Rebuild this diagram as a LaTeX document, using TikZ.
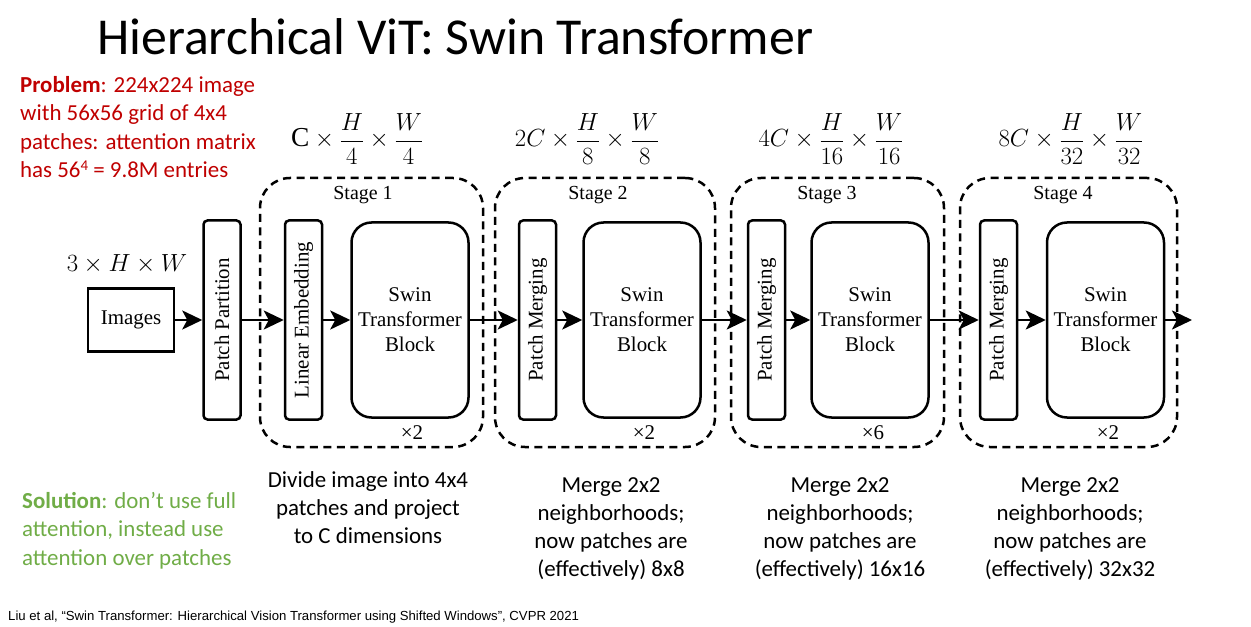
\documentclass[tikz,border=0pt]{standalone}
\usepackage{fontspec}
\setmainfont{Carlito}
\newfontfamily\tnr{Liberation Serif}
\newfontfamily\arialf{Liberation Sans}
\usetikzlibrary{arrows.meta}
\definecolor{probred}{HTML}{C00000}
\definecolor{solgreen}{HTML}{70AD47}
\begin{document}
\begin{tikzpicture}[x=1bp,y=-1bp,
  blk/.style={draw, line width=2.5bp, inner sep=0pt, font=\tnr\fontsize{21}{25}\selectfont, align=center},
  thinbox/.style={blk, minimum width=37bp, minimum height=199bp, rounded corners=4bp},
  swin/.style={blk, minimum width=117bp, minimum height=195bp, rounded corners=20bp},
  stagebox/.style={draw, line width=2.5bp, dash pattern=on 8bp off 5.5bp, rounded corners=30bp, inner sep=0pt, minimum height=269bp},
  flow/.style={line width=2.5bp, -{Stealth[length=20bp,width=19bp,inset=5bp]}},
  stlabel/.style={font=\tnr\fontsize{20}{24}\selectfont},
  rep/.style={font=\tnr\fontsize{21}{24}\selectfont},
  dims/.style={anchor=base, inner sep=0pt, font=\fontsize{27.5}{32}\selectfont},
  note/.style={anchor=base, align=center, inner sep=0pt, font=\fontsize{23}{28}\selectfont},
  side/.style={anchor=base west, align=left, inner sep=0pt, font=\fontsize{23}{28.5}\selectfont},
]
\useasboundingbox (0,0) rectangle (1251,627);
\fill[white] (0,0) rectangle (1251,627);

% title
\node[anchor=base west, inner sep=0pt, font=\fontsize{52}{62}\selectfont] (title) at (97,55) {Hierarchical ViT: Swin Transformer};

% side texts (anchor base = baseline of last line)
\node[side, text=probred] (prob) at (20,177.5) {\textbf{Problem}: 224x224 image\\with 56x56 grid of 4x4\\patches: attention matrix\\has 56{\fontsize{15}{15}\selectfont\raisebox{7bp}{4}} = 9.8M entries};
\node[side, text=solgreen] (sol) at (22,565) {\textbf{Solution}: don’t use full\\attention, instead use\\attention over patches};

% stage boxes
\node[stagebox, minimum width=223bp] (st1) at (371.5,312.5) {};
\node[stagebox, minimum width=220bp] (st2) at (605,312.5) {};
\node[stagebox, minimum width=213bp] (st3) at (837.5,312.5) {};
\node[stagebox, minimum width=217bp] (st4) at (1068.5,312.5) {};

\node[stlabel] (sl1) at (363,195) {Stage 1};
\node[stlabel] (sl2) at (598,195) {Stage 2};
\node[stlabel] (sl3) at (827,195) {Stage 3};
\node[stlabel] (sl4) at (1063,195) {Stage 4};

% blocks
\node[blk, minimum width=86bp, minimum height=63bp] (img) at (131,320) {Images};
\node[thinbox] (pp) at (222,320) {\rotatebox{90}{Patch Partition}};
\node[thinbox] (le) at (303.5,320) {\rotatebox{90}{Linear Embedding}};
\node[swin] (sw1) at (410,320) {Swin\\Transformer\\Block};
\node[thinbox] (pm2) at (537.5,320) {\rotatebox{90}{Patch Merging}};
\node[swin] (sw2) at (642,320) {Swin\\Transformer\\Block};
\node[thinbox] (pm3) at (766.5,320) {\rotatebox{90}{Patch Merging}};
\node[swin] (sw3) at (870,320) {Swin\\Transformer\\Block};
\node[thinbox] (pm4) at (998.5,320) {\rotatebox{90}{Patch Merging}};
\node[swin] (sw4) at (1105.5,320) {Swin\\Transformer\\Block};
\coordinate (out) at (1192,320);

\node[rep] (r1) at (412,433) {×2};
\node[rep] (r2) at (644,433) {×2};
\node[rep] (r3) at (873,433) {×6};
\node[rep] (r4) at (1108,433) {×2};

% arrows
\draw[flow] (img) -- (pp);
\draw[flow] (pp) -- (le);
\draw[flow] (le) -- (sw1);
\draw[flow] (sw1) -- (pm2);
\draw[flow] (pm2) -- (sw2);
\draw[flow] (sw2) -- (pm3);
\draw[flow] (pm3) -- (sw3);
\draw[flow] (sw3) -- (pm4);
\draw[flow] (pm4) -- (sw4);
\draw[flow] (sw4) -- (out);

% dimensions
\node[dims] (d0) at (127,272) {$3\times H\times W$};
\node[dims] (d1) at (357,147) {$\displaystyle \mbox{\tnr C}\times\frac{H}{4}\times\frac{W}{4}$};
\node[dims] (d2) at (587,147) {$\displaystyle 2C\times\frac{H}{8}\times\frac{W}{8}$};
\node[dims] (d3) at (831,147) {$\displaystyle 4C\times\frac{H}{16}\times\frac{W}{16}$};
\node[dims] (d4) at (1071,147) {$\displaystyle 8C\times\frac{H}{32}\times\frac{W}{32}$};

% notes (anchor base = baseline of last line)
\node[note] (n1) at (368,543) {Divide image into 4x4\\patches and project\\to C dimensions};
\node[note] (n2) at (611,576) {Merge 2x2\\neighborhoods;\\now patches are\\(effectively) 8x8};
\node[note] (n3) at (840,576) {Merge 2x2\\neighborhoods;\\now patches are\\(effectively) 16x16};
\node[note] (n4) at (1070,576) {Merge 2x2\\neighborhoods;\\now patches are\\(effectively) 32x32};

% footer
\node[anchor=base west, inner sep=0pt, font=\arialf\fontsize{13.2}{15}\selectfont] (foot) at (8,620) {Liu et al, “Swin Transformer: Hierarchical Vision Transformer using Shifted Windows”, CVPR 2021};
\end{tikzpicture}
\end{document}
